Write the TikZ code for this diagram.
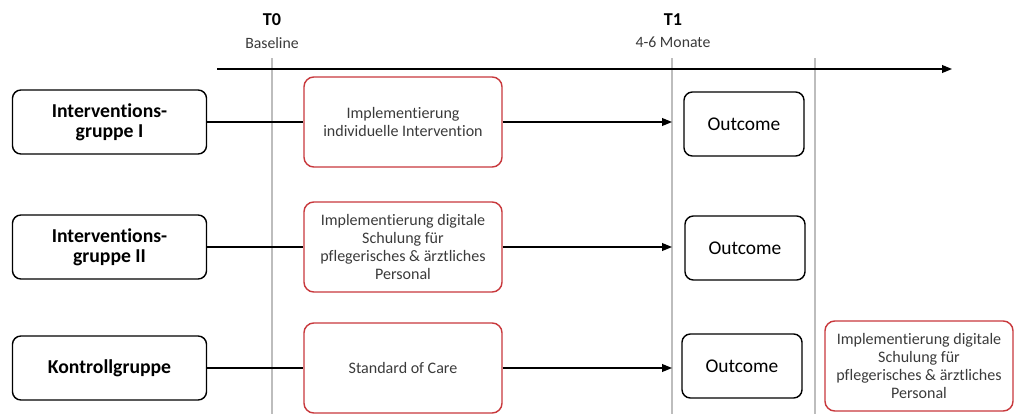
\documentclass[tikz,border=0pt]{standalone}
\usepackage{fontspec}
\setmainfont{Carlito}[Ligatures={NoCommon}]
\usetikzlibrary{arrows.meta}
\definecolor{boxred}{HTML}{C8383C}
\definecolor{gridgray}{HTML}{BDBDBD}
\definecolor{textgray}{HTML}{3A3A3A}
\tikzset{
  groupbox/.style={draw, line width=1pt, rounded corners=6pt, minimum width=4.85cm, minimum height=1.6cm, align=center, font=\fontsize{14}{14.5}\selectfont\bfseries},
  actionbox/.style={draw=boxred, line width=1pt, rounded corners=7pt, minimum width=4.95cm, minimum height=2.25cm, align=center, text=textgray, font=\fontsize{11.4}{13}\selectfont},
  outcomebox/.style={draw, line width=1pt, rounded corners=6pt, minimum width=3cm, minimum height=1.6cm, font=\fontsize{13.8}{15}\selectfont},
  gridline/.style={gridgray, line width=0.8pt},
  flow/.style={line width=0.9pt, -{Triangle[length=7pt,width=5.5pt]}}
}
\begin{document}
\begin{tikzpicture}[x=0.025cm, y=-0.025cm]
  \useasboundingbox (0,0) rectangle (1015,414);

  % Time points
  \node (t0lab) at (272,20) {\fontsize{12.9}{14}\selectfont\bfseries T0};
  \node[text=textgray] (t0sub) at (272,43) {\fontsize{11.2}{13}\selectfont Baseline};
  \node (t1lab) at (673,20) {\fontsize{12.9}{14}\selectfont\bfseries T1};
  \node[text=textgray] (t1sub) at (673,42) {\fontsize{11.2}{13}\selectfont 4-6 Monate};

  % Vertical markers
  \foreach \x/\n in {272/t0, 672/t1, 815/t2} {
    \coordinate (\n top) at (\x,58);
    \coordinate (\n) at (\x,414);
    \draw[gridline] (\n top) -- (\n);
  }

  % Time axis
  \coordinate (axisstart) at (217,69);
  \coordinate (axisend) at (952,69);
  \draw[flow] (axisstart) -- (axisend);

  % Groups
  \node[groupbox] (g1) at (109.5,122) {Interventions-\\gruppe I};
  \node[groupbox] (g2) at (109.5,247) {Interventions-\\gruppe II};
  \node[groupbox] (g3) at (109.5,368) {Kontrollgruppe};

  % Interventions
  \node[actionbox] (r1) at (403,122) {Implementierung\\individuelle Intervention};
  \node[actionbox] (r2) at (403,247) {Implementierung digitale\\Schulung für\\pflegerisches \& ärztliches\\Personal};
  \node[actionbox] (r3) at (403,368) {Standard of Care};
  \node[actionbox, minimum width=4.7cm] (r4) at (919,366) {Implementierung digitale\\Schulung für\\pflegerisches \& ärztliches\\Personal};

  % Outcomes
  \node[outcomebox] (o1) at (744,124) {Outcome};
  \node[outcomebox] (o2) at (745,248) {Outcome};
  \node[outcomebox] (o3) at (742,366) {Outcome};

  % Connectors
  \foreach \i in {1,2,3} {
    \draw[line width=0.9pt] (g\i) -- (r\i);
    \draw[flow] (r\i.east) -- (r\i.east -| t1);
  }
\end{tikzpicture}
\end{document}
